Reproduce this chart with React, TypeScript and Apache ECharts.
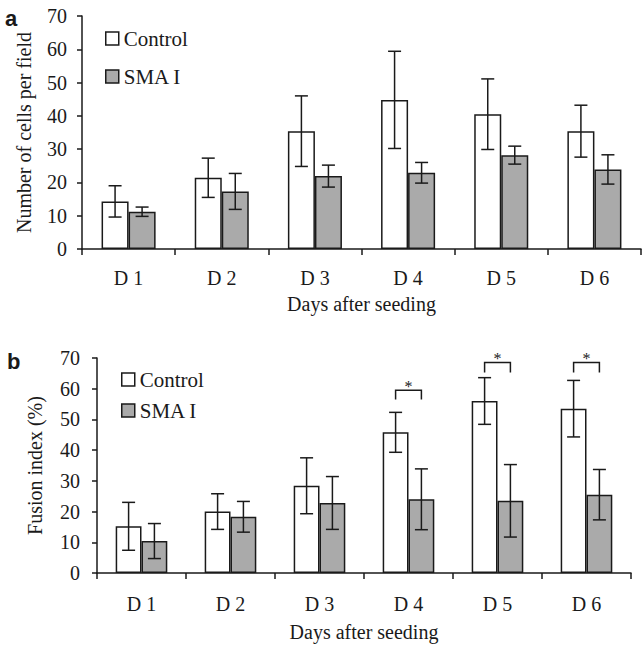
import React, { useEffect, useRef } from "react";
import * as echarts from "echarts";

const categories = ["D 1", "D 2", "D 3", "D 4", "D 5", "D 6"];
const yTickMax = 70;
const yTickStep = 10;

// Panel a: number of cells per field
const cellsControl = [14.3, 21.4, 35.4, 44.8, 40.5, 35.4];
const cellsControlErr = [4.7, 5.9, 10.6, 14.6, 10.6, 7.8];
const cellsSma = [11.2, 17.3, 21.9, 22.9, 28.2, 23.9];
const cellsSmaErr = [1.4, 5.4, 3.3, 3.1, 2.7, 4.4];

// Panel b: fusion index (%)
const fusionControl = [15.2, 20.0, 28.4, 45.8, 56.0, 53.5];
const fusionControlErr = [7.8, 5.8, 9.1, 6.5, 7.6, 9.2];
const fusionSma = [10.4, 18.3, 22.8, 24.0, 23.5, 25.5];
const fusionSmaErr = [5.7, 5.0, 8.6, 9.9, 11.8, 8.2];

// significance brackets: [category index, bracket level, leg end]
const sigBrackets = [
  [3, 59.5, 56.5],
  [4, 68.5, 65.3],
  [5, 68.5, 65.3],
];

const FONT = "Liberation Serif";
const INK = "#1a1a1a";
const GRAY = "#aaaaaa";
const HALF = 0.145; // bar centre offset as share of band

const errData = (vals: number[], errs: number[]) =>
  vals.map((v, i) => [i, v - errs[i], v + errs[i]]);

const errRender = (side: number) => (params: any, api: any) => {
  const cat = api.value(0);
  const lo = api.value(1);
  const hi = api.value(2);
  const band = api.size([1, 0])[0];
  const x = api.coord([cat, 0])[0] + side * band * HALF;
  const yHi = api.coord([cat, hi])[1];
  const yLo = api.coord([cat, lo])[1];
  const style = { stroke: INK, lineWidth: 1.5, fill: null };
  return {
    type: "group",
    children: [
      { type: "line", shape: { x1: x, y1: yHi, x2: x, y2: yLo }, style },
      { type: "line", shape: { x1: x - 6.5, y1: yHi, x2: x + 6.5, y2: yHi }, style },
      { type: "line", shape: { x1: x - 6.5, y1: yLo, x2: x + 6.5, y2: yLo }, style },
    ],
  };
};

const bracketRender = (params: any, api: any) => {
  const cat = api.value(0);
  const top = api.value(1);
  const leg = api.value(2);
  const band = api.size([1, 0])[0];
  const c = api.coord([cat, top]);
  const yL = api.coord([cat, leg])[1];
  const x1 = c[0] - band * HALF;
  const x2 = c[0] + band * HALF;
  return {
    type: "group",
    children: [
      {
        type: "polyline",
        shape: { points: [[x1, yL], [x1, c[1]], [x2, c[1]], [x2, yL]] },
        style: { stroke: INK, lineWidth: 1.5, fill: null },
      },
      {
        type: "text",
        x: c[0],
        y: c[1] - 4,
        style: {
          text: "*",
          fontFamily: FONT,
          fontSize: 16,
          fill: INK,
          align: "center",
          verticalAlign: "middle",
        },
      },
    ],
  };
};

const makeXAxis = (gridIndex: number, labelMargin: number, nameGap: number) => ({
  type: "category",
  gridIndex,
  data: categories,
  boundaryGap: true,
  axisLine: { lineStyle: { color: INK, width: 1.5 } },
  axisTick: { show: true, length: 6, lineStyle: { color: INK, width: 1.5 } },
  axisLabel: { fontFamily: FONT, fontSize: 20, color: INK, margin: labelMargin },
  name: "Days after seeding",
  nameLocation: "middle",
  nameGap,
  nameTextStyle: { fontFamily: FONT, fontSize: 20, color: INK },
});

const makeYAxis = (gridIndex: number, name: string, labelMargin: number, nameGap: number) => ({
  type: "value",
  gridIndex,
  min: 0,
  max: yTickMax,
  interval: yTickStep,
  splitLine: { show: false },
  axisLine: { show: true, lineStyle: { color: INK, width: 1.5 } },
  axisTick: { show: true, length: 5, lineStyle: { color: INK, width: 1.5 } },
  axisLabel: { fontFamily: FONT, fontSize: 20, color: INK, margin: labelMargin },
  name,
  nameLocation: "middle",
  nameGap,
  nameRotate: 90,
  nameTextStyle: { fontFamily: FONT, fontSize: 20, color: INK },
});

const barStyle = (fill: string) => ({
  color: fill,
  borderColor: INK,
  borderWidth: 1.5,
});

const makeBars = (idx: number, ctrl: number[], sma: number[]) => [
  {
    name: "Control",
    type: "bar",
    xAxisIndex: idx,
    yAxisIndex: idx,
    data: ctrl,
    barGap: "0%",
    barCategoryGap: "42%",
    itemStyle: barStyle("#ffffff"),
  },
  {
    name: "SMA I",
    type: "bar",
    xAxisIndex: idx,
    yAxisIndex: idx,
    data: sma,
    barGap: "0%",
    barCategoryGap: "42%",
    itemStyle: barStyle(GRAY),
  },
];

const makeErr = (idx: number, vals: number[], errs: number[], side: number) => ({
  type: "custom",
  xAxisIndex: idx,
  yAxisIndex: idx,
  data: errData(vals, errs),
  encode: { x: 0, y: [1, 2] },
  renderItem: errRender(side),
  z: 5,
  silent: true,
});

const legendCfg = (left: number, top: number, gap: number) => ({
  left,
  top,
  orient: "vertical",
  padding: 0,
  itemGap: gap,
  itemWidth: 13,
  itemHeight: 13,
  icon: "rect",
  data: ["Control", "SMA I"],
  textStyle: { fontFamily: FONT, fontSize: 21, color: INK },
  itemStyle: { borderColor: INK, borderWidth: 1.5 },
});

export default function App() {
  const ref = useRef<HTMLDivElement>(null);
  useEffect(() => {
    if (!ref.current) return;
    const chart = echarts.init(ref.current, undefined, { renderer: "svg" });
    chart.setOption({
      animation: false,
      backgroundColor: "#ffffff",
      textStyle: { fontFamily: FONT },
      grid: [
        { left: 82, top: 16, width: 559, height: 233 },
        { left: 97, top: 358, width: 534, height: 215 },
      ],
      legend: [legendCfg(105, 28, 17), legendCfg(121, 369, 10)],
      xAxis: [makeXAxis(0, 19, 45), makeXAxis(1, 21, 49)],
      yAxis: [
        makeYAxis(0, "Number of cells per field", 15, 48),
        makeYAxis(1, "Fusion index (%)", 17, 52),
      ],
      graphic: [
        {
          type: "text",
          left: 5,
          top: 7,
          style: { text: "a", fontFamily: "Liberation Sans", fontWeight: "bold", fontSize: 22, fill: INK },
        },
        {
          type: "text",
          left: 7,
          top: 350,
          style: { text: "b", fontFamily: "Liberation Sans", fontWeight: "bold", fontSize: 22, fill: INK },
        },
      ],
      series: [
        ...makeBars(0, cellsControl, cellsSma),
        makeErr(0, cellsControl, cellsControlErr, -1),
        makeErr(0, cellsSma, cellsSmaErr, 1),
        ...makeBars(1, fusionControl, fusionSma),
        makeErr(1, fusionControl, fusionControlErr, -1),
        makeErr(1, fusionSma, fusionSmaErr, 1),
        {
          type: "custom",
          xAxisIndex: 1,
          yAxisIndex: 1,
          data: sigBrackets,
          encode: { x: 0, y: [1, 2] },
          renderItem: bracketRender,
          clip: false,
          z: 5,
          silent: true,
        },
      ],
    });
    return () => chart.dispose();
  }, []);
  return (
    <div
      ref={ref}
      style={{ position: "fixed", left: 0, top: 0, width: 642, height: 651, background: "#fff" }}
    />
  );
}
